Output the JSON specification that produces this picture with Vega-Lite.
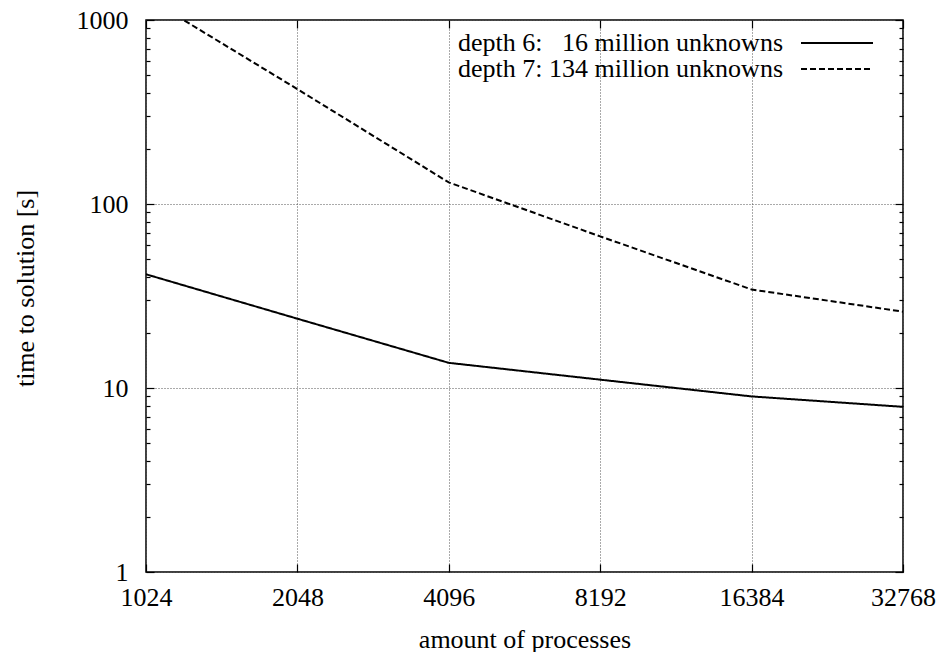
{
  "$schema": "https://vega.github.io/schema/vega-lite/v6.json",
  "width": 757,
  "height": 552,
  "autosize": {"type": "none"},
  "padding": {"left": 146, "top": 20, "right": 41, "bottom": 80},
  "background": "white",
  "config": {
    "view": {"stroke": "black", "strokeWidth": 1.5},
    "font": "Liberation Serif",
    "axis": {
      "labelFont": "Liberation Serif",
      "labelFontSize": 26,
      "labelColor": "black",
      "titleFont": "Liberation Serif",
      "titleFontSize": 26,
      "titleFontWeight": "normal",
      "titleColor": "black",
      "tickColor": "black",
      "tickWidth": 1.2,
      "gridColor": "#555555",
      "gridDash": [1, 2],
      "gridWidth": 1,
      "gridOpacity": 1
    }
  },
  "data": {
    "values": [
      {"series": "depth 6:\u00a0\u00a0\u00a016 million unknowns", "processes": 1024, "time": 41.5},
      {"series": "depth 6:\u00a0\u00a0\u00a016 million unknowns", "processes": 2048, "time": 23.8},
      {"series": "depth 6:\u00a0\u00a0\u00a016 million unknowns", "processes": 4096, "time": 13.7},
      {"series": "depth 6:\u00a0\u00a0\u00a016 million unknowns", "processes": 8192, "time": 11.1},
      {"series": "depth 6:\u00a0\u00a0\u00a016 million unknowns", "processes": 16384, "time": 9.0},
      {"series": "depth 6:\u00a0\u00a0\u00a016 million unknowns", "processes": 32768, "time": 7.9},
      {"series": "depth 7: 134 million unknowns", "processes": 1024, "time": 1330},
      {"series": "depth 7: 134 million unknowns", "processes": 2048, "time": 421},
      {"series": "depth 7: 134 million unknowns", "processes": 4096, "time": 131},
      {"series": "depth 7: 134 million unknowns", "processes": 8192, "time": 66.7},
      {"series": "depth 7: 134 million unknowns", "processes": 16384, "time": 34.3},
      {"series": "depth 7: 134 million unknowns", "processes": 32768, "time": 26}
    ]
  },
  "layer": [
    {
      "mark": {"type": "line", "color": "black", "strokeWidth": 2, "clip": true},
      "encoding": {
        "x": {
          "field": "processes", "type": "quantitative",
          "scale": {"type": "log", "base": 2, "domain": [1024, 32768], "nice": false},
          "axis": {
            "orient": "bottom",
            "values": [1024, 2048, 4096, 8192, 16384, 32768],
            "format": "d",
            "title": "amount of processes",
            "ticks": false, "domain": false, "grid": true,
            "labelPadding": 12, "labelFlush": false, "labelOverlap": false, "labelBound": false,
            "titleX": 378.5, "titleY": 75, "titleBaseline": "alphabetic", "titleAlign": "center"
          }
        },
        "y": {
          "field": "time", "type": "quantitative",
          "scale": {"type": "log", "domain": [1, 1000], "nice": false},
          "axis": {
            "orient": "left",
            "values": [1, 10, 100, 1000],
            "format": "d",
            "title": "time to solution [s]",
            "ticks": false, "domain": false, "grid": true,
            "labelPadding": 18, "labelFlush": false, "labelOverlap": false, "labelBound": false,
            "labelBaseline": "middle",
            "titleX": -113, "titleY": 268, "titleAngle": -90, "titleBaseline": "alphabetic", "titleAlign": "center"
          }
        },
        "strokeDash": {
          "field": "series", "type": "nominal",
          "scale": {
            "domain": ["depth 6:\u00a0\u00a0\u00a016 million unknowns", "depth 7: 134 million unknowns"],
            "range": [[1, 0], [6, 3]]
          },
          "legend": {
            "orient": "none",
            "legendX": 678,
            "legendY": 10,
            "title": null,
            "symbolType": "M-3,0H3",
            "symbolSize": 576,
            "symbolStrokeWidth": 2,
            "symbolStrokeColor": "black",
            "symbolFillColor": "transparent",
            "symbolOffset": 0,
            "labelAlign": "right",
            "labelOffset": -67,
            "labelFont": "Liberation Serif",
            "labelFontSize": 26,
            "labelColor": "black",
            "labelLimit": 0,
            "rowPadding": 0,
            "padding": 0
          }
        }
      }
    },
    {
      "mark": {"type": "line", "opacity": 0},
      "encoding": {
        "detail": {"field": "series"},
        "x": {
          "field": "processes", "type": "quantitative",
          "scale": {"type": "log", "base": 2, "domain": [1024, 32768], "nice": false},
          "axis": {
            "orient": "bottom",
            "values": [1024, 2048, 4096, 8192, 16384, 32768],
            "title": null, "labels": false, "domain": false, "grid": false,
            "ticks": true, "tickSize": -8
          }
        },
        "y": {
          "field": "time", "type": "quantitative",
          "scale": {"type": "log", "domain": [1, 1000], "nice": false},
          "axis": {
            "orient": "left",
            "values": [1, 2, 3, 4, 5, 6, 7, 8, 9, 10, 20, 30, 40, 50, 60, 70, 80, 90, 100, 200, 300, 400, 500, 600, 700, 800, 900, 1000],
            "title": null, "labels": false, "domain": false, "grid": false,
            "ticks": true,
            "tickSize": {"condition": {"test": "datum.value == 1 || datum.value == 10 || datum.value == 100 || datum.value == 1000", "value": -8}, "value": -4}
          }
        }
      }
    },
    {
      "mark": {"type": "line", "opacity": 0},
      "encoding": {
        "detail": {"field": "series"},
        "x": {
          "field": "processes", "type": "quantitative",
          "scale": {"type": "log", "base": 2, "domain": [1024, 32768], "nice": false},
          "axis": {
            "orient": "top",
            "values": [1024, 2048, 4096, 8192, 16384, 32768],
            "title": null, "labels": false, "domain": false, "grid": false,
            "ticks": true, "tickSize": -8
          }
        },
        "y": {
          "field": "time", "type": "quantitative",
          "scale": {"type": "log", "domain": [1, 1000], "nice": false},
          "axis": {
            "orient": "right",
            "values": [1, 2, 3, 4, 5, 6, 7, 8, 9, 10, 20, 30, 40, 50, 60, 70, 80, 90, 100, 200, 300, 400, 500, 600, 700, 800, 900, 1000],
            "title": null, "labels": false, "domain": false, "grid": false,
            "ticks": true,
            "tickSize": {"condition": {"test": "datum.value == 1 || datum.value == 10 || datum.value == 100 || datum.value == 1000", "value": -8}, "value": -4}
          }
        }
      }
    }
  ],
  "resolve": {"axis": {"x": "independent", "y": "independent"}}
}
